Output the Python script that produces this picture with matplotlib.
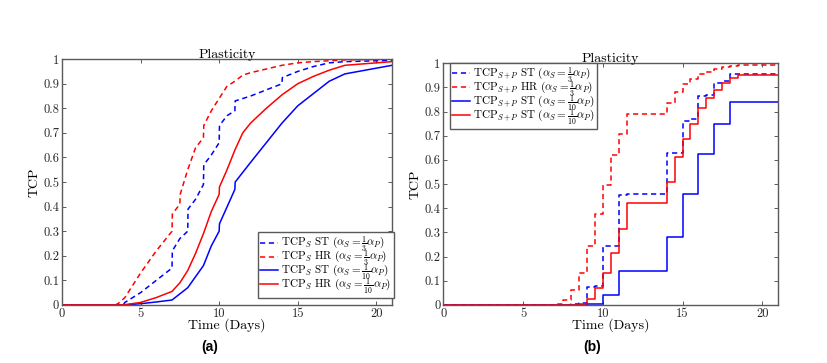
import matplotlib
matplotlib.use("Agg")
import matplotlib.pyplot as plt

plt.rcParams['font.family'] = ['cmr10']
plt.rcParams['mathtext.fontset'] = 'cm'
plt.rcParams['axes.formatter.use_mathtext'] = True
plt.rcParams['lines.dashed_pattern'] = [3.4, 2.4]

# ---- Panel (a): TCP_S ----
a_st3_x = [0, 3.9, 4, 5, 6, 7, 7.02, 7.5, 8, 8.02, 8.5, 9, 9.02, 9.5, 10, 10.02, 10.5, 11, 11.02, 12, 13, 14, 14.02, 15, 16, 17, 18, 21]
a_st3_y = [0, 0, 0.01, 0.05, 0.10, 0.15, 0.22, 0.27, 0.30, 0.39, 0.43, 0.49, 0.57, 0.61, 0.66, 0.73, 0.77, 0.79, 0.83, 0.85, 0.875, 0.90, 0.925, 0.95, 0.97, 0.985, 0.99, 0.995]
a_hr3_x = [0, 3.4, 3.6, 4, 4.5, 5, 6, 7, 7.02, 7.5, 7.52, 8, 8.5, 9, 9.02, 9.5, 10, 10.5, 11, 11.5, 12, 13, 14, 15, 16, 18, 21]
a_hr3_y = [0, 0, 0.007, 0.03, 0.08, 0.13, 0.22, 0.30, 0.37, 0.41, 0.45, 0.55, 0.64, 0.68, 0.73, 0.79, 0.84, 0.89, 0.91, 0.935, 0.945, 0.96, 0.975, 0.985, 0.99, 0.997, 1.0]
a_st10_x = [0, 4, 5, 6, 7, 8, 9, 9.5, 10, 10.02, 11, 11.02, 12, 13, 14, 15, 16, 17, 18, 21]
a_st10_y = [0, 0, 0.005, 0.012, 0.02, 0.07, 0.16, 0.24, 0.30, 0.33, 0.47, 0.50, 0.58, 0.66, 0.74, 0.81, 0.86, 0.91, 0.94, 0.975]
a_hr10_x = [0, 3.9, 5, 6, 7, 7.5, 8, 8.5, 9, 9.5, 10, 10.02, 10.5, 11, 11.5, 12, 13, 14, 15, 16, 17, 18, 21]
a_hr10_y = [0, 0, 0.01, 0.03, 0.055, 0.09, 0.14, 0.21, 0.29, 0.38, 0.45, 0.48, 0.55, 0.63, 0.70, 0.74, 0.80, 0.855, 0.90, 0.93, 0.955, 0.975, 0.99]

# ---- Panel (b): TCP_{S+P} (step data) ----
b_st3_x = [0, 7.5, 8, 8.5, 9, 9.5, 10, 10.5, 11, 11.5, 14, 14.5, 15, 15.5, 16, 16.5, 17, 17.5, 18, 21]
b_st3_y = [0, 0, 0.005, 0.01, 0.075, 0.08, 0.245, 0.245, 0.455, 0.46, 0.63, 0.63, 0.76, 0.77, 0.865, 0.87, 0.92, 0.925, 0.955, 0.955]
b_hr3_x = [0, 7, 7.5, 8, 8.5, 9, 9.5, 10, 10.5, 11, 11.5, 14, 14.5, 15, 15.5, 16, 16.5, 17, 17.5, 18, 18.5, 21]
b_hr3_y = [0, 0.005, 0.02, 0.06, 0.13, 0.245, 0.375, 0.495, 0.62, 0.705, 0.79, 0.835, 0.88, 0.915, 0.935, 0.955, 0.965, 0.975, 0.985, 0.99, 0.993, 0.995]
b_st10_x = [0, 9, 10, 11, 14, 15, 16, 17, 18, 21]
b_st10_y = [0, 0.003, 0.04, 0.14, 0.28, 0.46, 0.625, 0.75, 0.84, 0.84]
b_hr10_x = [0, 8.5, 9, 9.5, 10, 10.5, 11, 11.5, 14, 14.5, 15, 15.5, 16, 16.5, 17, 17.5, 18, 18.5, 21]
b_hr10_y = [0, 0.005, 0.025, 0.07, 0.13, 0.215, 0.315, 0.42, 0.51, 0.61, 0.685, 0.75, 0.815, 0.855, 0.89, 0.92, 0.94, 0.95, 0.95]

labels_a = [r'TCP$_S$ ST ($\alpha_S = \frac{1}{3}\alpha_P$)',
            r'TCP$_S$ HR ($\alpha_S = \frac{1}{3}\alpha_P$)',
            r'TCP$_S$ ST ($\alpha_S = \frac{1}{10}\alpha_P$)',
            r'TCP$_S$ HR ($\alpha_S = \frac{1}{10}\alpha_P$)']
labels_b = [r'TCP$_{S+P}$ ST ($\alpha_S = \frac{1}{3}\alpha_P$)',
            r'TCP$_{S+P}$ HR ($\alpha_S = \frac{1}{3}\alpha_P$)',
            r'TCP$_{S+P}$ ST ($\alpha_S = \frac{1}{10}\alpha_P$)',
            r'TCP$_{S+P}$ ST ($\alpha_S = \frac{1}{10}\alpha_P$)']

xticks = [0, 5, 10, 15, 20]
yticks = [0, 0.1, 0.2, 0.3, 0.4, 0.5, 0.6, 0.7, 0.8, 0.9, 1]
ytick_labels = ['0', '0.1', '0.2', '0.3', '0.4', '0.5', '0.6', '0.7', '0.8', '0.9', '1']

BLUE = '#0000ff'
RED = '#ff0000'
SPINE = '#5a5a5a'

fig = plt.figure(figsize=(8.27, 3.63), dpi=100)
axA = fig.add_axes([0.075, 0.160, 0.399, 0.677])
axB = fig.add_axes([0.536, 0.160, 0.405, 0.666])

def style(ax):
    ax.set_xlim(0, 21)
    ax.set_ylim(0, 1)
    ax.set_xticks(xticks)
    ax.set_xticklabels([str(t) for t in xticks])
    ax.set_yticks(yticks)
    ax.set_yticklabels(ytick_labels)
    ax.tick_params(direction='in', top=True, right=True, length=3, width=0.7,
                   labelsize=9, pad=2, color=SPINE, labelcolor='#262626')
    for s in ax.spines.values():
        s.set_linewidth(1.0)
        s.set_color(SPINE)
    ax.set_xlabel('Time (Days)', fontsize=10, labelpad=-1)
    ax.set_ylabel('TCP', fontsize=10, labelpad=2)
    ax.set_title('Plasticity', fontsize=10, pad=1)

leg_kw = dict(fontsize=8, handlelength=1.6, handletextpad=0.3, labelspacing=-0.5,
              borderpad=0.2, borderaxespad=0.0, fancybox=False,
              framealpha=1, edgecolor=SPINE)

lw = 1.1
axA.plot(a_st3_x, a_st3_y, '--', color=BLUE, lw=lw, label=labels_a[0])
axA.plot(a_hr3_x, a_hr3_y, '--', color=RED, lw=lw, label=labels_a[1])
axA.plot(a_st10_x, a_st10_y, '-', color=BLUE, lw=lw, label=labels_a[2])
axA.plot(a_hr10_x, a_hr10_y, '-', color=RED, lw=lw, label=labels_a[3])
style(axA)
legA = axA.legend(loc='lower right', bbox_to_anchor=(1.005, 0.028), **leg_kw)
legA.get_frame().set_linewidth(1.0)

axB.plot(b_st3_x, b_st3_y, '--', color=BLUE, lw=lw, drawstyle='steps-post', label=labels_b[0])
axB.plot(b_hr3_x, b_hr3_y, '--', color=RED, lw=lw, drawstyle='steps-post', label=labels_b[1])
axB.plot(b_st10_x, b_st10_y, '-', color=BLUE, lw=lw, drawstyle='steps-post', label=labels_b[2])
axB.plot(b_hr10_x, b_hr10_y, '-', color=RED, lw=lw, drawstyle='steps-post', label=labels_b[3])
style(axB)
legB = axB.legend(loc='upper left', bbox_to_anchor=(0.02, 1.0), **leg_kw)
legB.get_frame().set_linewidth(1.0)

fig.text(210/827, 1 - 347/363, '(a)', ha='center', va='center', fontsize=10,
         fontweight='bold', family='Liberation Sans')
fig.text(592/827, 1 - 347/363, '(b)', ha='center', va='center', fontsize=10,
         fontweight='bold', family='Liberation Sans')

fig.savefig('out.png', dpi=100)
